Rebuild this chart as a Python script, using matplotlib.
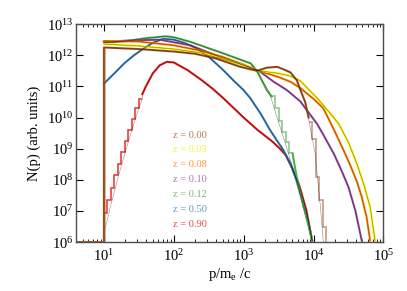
import matplotlib
matplotlib.use('Agg')
import matplotlib.pyplot as plt
from matplotlib.ticker import LogLocator, NullLocator, NullFormatter
import numpy as np

plt.rcParams['font.family'] = ['Liberation Serif', 'DejaVu Serif']
plt.rcParams['mathtext.fontset'] = 'stix'

# redshifts and colours of the seven spectra
redshifts = ['0.00', '0.03', '0.08', '0.10', '0.12', '0.50', '0.90']
colors = ['#a65628', '#f0f000', '#ff7f00', '#984ea3', '#4daf4a', '#377eb8', '#e41a1c']

# log10(p/m_e c) and log10 N(p)
lp_z000 = [0.6, 1.0, 1.0, 1.5, 2.0, 2.3, 2.6, 2.95, 3.19, 3.33, 3.48, 3.57, 3.67, 3.76, 3.81, 3.88, 3.93]
ln_z000 = [6.0, 6.0, 12.25, 12.2, 12.12, 12.05, 11.9, 11.63, 11.5, 11.6, 11.63, 11.55, 11.45, 11.2, 10.9, 10.5, 10.0]
lp_z003 = [1.0, 1.5, 2.0, 2.38, 2.95, 3.22, 3.5, 3.67, 3.81, 4.05, 4.24, 4.36, 4.5, 4.62, 4.72, 4.81, 4.88]
ln_z003 = [12.36, 12.3, 12.2, 12.08, 11.72, 11.5, 11.42, 11.33, 11.18, 10.63, 10.13, 9.8, 9.2, 8.52, 7.85, 7.13, 6.05]
lp_z008 = [1.0, 1.5, 2.0, 2.38, 2.7, 3.0, 3.22, 3.5, 3.67, 3.81, 4.0, 4.14, 4.29, 4.43, 4.52, 4.62, 4.69, 4.76, 4.81]
ln_z008 = [12.46, 12.44, 12.32, 12.15, 11.95, 11.7, 11.5, 11.3, 11.15, 10.95, 10.6, 10.3, 9.62, 8.95, 8.5, 7.95, 7.45, 6.8, 6.05]
lp_z010 = [1.0, 1.4, 1.8, 2.24, 2.71, 3.0, 3.22, 3.43, 3.62, 3.81, 3.95, 4.05, 4.14, 4.29, 4.4, 4.5, 4.6, 4.69]
ln_z010 = [12.43, 12.48, 12.5, 12.32, 11.9, 11.68, 11.5, 11.15, 10.88, 10.52, 10.1, 9.8, 9.45, 8.84, 8.3, 7.77, 7.0, 6.05]
lp_z012 = [1.0, 1.3, 1.6, 1.88, 2.0, 2.24, 2.71, 3.1, 3.19, 3.26, 3.33, 3.40]
ln_z012 = [12.40, 12.45, 12.55, 12.61, 12.58, 12.43, 12.06, 11.74, 11.5, 11.2, 10.88, 10.68]
lp_z050 = [1.0, 1.15, 1.29, 1.43, 1.57, 1.7, 1.85, 2.0, 2.15, 2.33, 2.5, 2.71, 2.85, 3.0, 3.1, 3.25,
           3.38, 3.48, 3.57, 3.67, 3.76, 3.86, 3.93, 3.98]
ln_z050 = [11.09, 11.42, 11.74, 12.0, 12.22, 12.4, 12.53, 12.5, 12.4, 12.22, 11.95, 11.52, 11.2, 10.88, 10.61, 10.1,
           9.59, 9.25, 8.95, 8.52, 7.95, 7.13, 6.6, 6.05]
lp_z090 = [1.55, 1.6, 1.7, 1.8, 1.9, 2.0, 2.2, 2.4, 2.57, 2.71, 3.0, 3.2, 3.4, 3.52, 3.6, 3.7, 3.8, 3.9, 3.98]
ln_z090 = [10.75, 11.0, 11.42, 11.68, 11.79, 11.77, 11.52, 11.2, 10.9, 10.62, 10.0, 9.6, 9.25, 9.0, 8.8, 8.35, 7.8, 7.0, 6.05]

# binned tails where the histogram steps are visible
edges_z000 = [3.93, 3.98, 4.03, 4.08, 4.13, 4.18, 4.23]
bins_z000 = [9.85, 9.3, 8.1, 7.35, 6.5, 3.0]
edges_z012 = [3.40, 3.45, 3.50, 3.55, 3.60, 3.65, 3.70]
bins_z012 = [10.68, 10.3, 9.9, 9.55, 9.2, 8.85]
lp_z012_tail = [3.70, 3.75, 3.86, 3.98]
ln_z012_tail = [8.85, 8.2, 7.13, 6.05]
edges_z090 = [1.0, 1.05, 1.1, 1.15, 1.2, 1.25, 1.3, 1.35, 1.4, 1.45, 1.5, 1.55]
bins_z090 = [6.95, 7.35, 7.75, 8.15, 8.5, 8.9, 9.25, 9.6, 9.95, 10.3, 10.6]

# fitted curves (black) where they leave the histograms
fit_lp_z000 = [1.0, 1.0, 1.5, 2.0, 2.3, 2.6, 2.95, 3.19, 3.33, 3.48, 3.57, 3.67, 3.76, 3.81, 3.88,
               3.93, 3.97, 4.02, 4.06, 4.10, 4.14]
fit_ln_z000 = [5.0, 12.25, 12.2, 12.12, 12.05, 11.9, 11.63, 11.5, 11.6, 11.63, 11.55, 11.45, 11.2, 10.9, 10.5,
               9.95, 9.45, 8.9, 8.0, 7.1, 6.0]
fit_lp_z012 = [1.0, 1.3, 1.6, 1.88, 2.0, 2.24, 2.71, 3.1, 3.19, 3.26, 3.36, 3.5, 3.6, 3.7, 3.81, 3.9, 3.98]
fit_ln_z012 = [12.40, 12.45, 12.55, 12.61, 12.58, 12.43, 12.06, 11.74, 11.5, 11.2, 10.85, 9.85, 9.15, 8.4, 7.66, 6.95, 6.05]
fit_lp_z090 = [1.02, 1.1, 1.2, 1.3, 1.4, 1.5, 1.55]
fit_ln_z090 = [6.45, 7.2, 8.05, 8.85, 9.6, 10.3, 10.6]


def pw(a):
    return 10.0 ** np.asarray(a)


fig = plt.figure(figsize=(4.07, 2.91), dpi=100)
ax = fig.add_axes([0.187, 0.168, 0.755, 0.749])

lines = [(lp_z000, ln_z000), (lp_z003, ln_z003), (lp_z008, ln_z008), (lp_z010, ln_z010),
         (lp_z012, ln_z012), (lp_z050, ln_z050), (lp_z090, ln_z090)]
fits = [(fit_lp_z000, fit_ln_z000), (lp_z003, ln_z003), (lp_z008, ln_z008), (lp_z010, ln_z010),
        (fit_lp_z012, fit_ln_z012), (lp_z050, ln_z050), (fit_lp_z090 + lp_z090, fit_ln_z090 + ln_z090)]

# draw from high z to low z so the z=0 histogram ends up on top
for i in range(len(lines) - 1, -1, -1):
    c = colors[i]
    lp, ln = lines[i]
    ax.plot(pw(lp), pw(ln), color=c, lw=1.5, zorder=2)
    flp, fln = fits[i]
    ax.plot(pw(flp), pw(fln), color='k', lw=0.3, alpha=0.6, zorder=4)

ax.stairs(pw(bins_z000), pw(edges_z000), baseline=None, color=colors[0], lw=1.3, alpha=0.55, zorder=3)
ax.stairs(pw(bins_z012), pw(edges_z012), baseline=None, color=colors[4], lw=1.3, alpha=0.6, zorder=3)
ax.plot(pw(lp_z012_tail), pw(ln_z012_tail), color=colors[4], lw=1.5, zorder=2)
ax.stairs(pw(bins_z090), pw(edges_z090), baseline=None, color=colors[6], lw=1.1, alpha=0.9, zorder=3)
# z=0 edge at p=10 drawn last (light brown)
ax.plot(pw(lp_z000[:3]), pw(ln_z000[:3]), color=colors[0], lw=2.0, alpha=0.5, zorder=5)

ax.set_xscale('log')
ax.set_yscale('log')
ax.set_xlim(4, 1e5)
ax.set_ylim(1e6, 1e13)
ax.yaxis.set_major_locator(LogLocator(base=10, numticks=20))
ax.yaxis.set_minor_locator(NullLocator())
ax.xaxis.set_major_locator(LogLocator(base=10, numticks=20))
ax.xaxis.set_minor_locator(LogLocator(base=10, subs=np.arange(2, 10), numticks=20))
ax.xaxis.set_minor_formatter(NullFormatter())
ax.tick_params(which='both', direction='in', top=True, right=True, labelsize=10.5)
ax.tick_params(which='major', length=5, width=0.8)
ax.tick_params(which='minor', length=2.5, width=0.6)
ax.tick_params(axis='y', pad=2)
ax.tick_params(axis='x', pad=4)
for s in ax.spines.values():
    s.set_linewidth(1.0)
    s.set_color('0.3')

ax.set_ylabel('N(p) (arb. units)', fontsize=10.5, labelpad=4)
ax.set_xlabel(r'p/m$_\mathregular{e}$ /c', fontsize=10.5, labelpad=2)

for i, z in enumerate(redshifts):
    ax.text(0.371, 0.491 - i * 0.068, 'z = ' + z, transform=ax.transAxes, ha='center', va='center',
            color=colors[i], alpha=0.8, fontsize=7.5)

fig.savefig('out.png', dpi=100)
